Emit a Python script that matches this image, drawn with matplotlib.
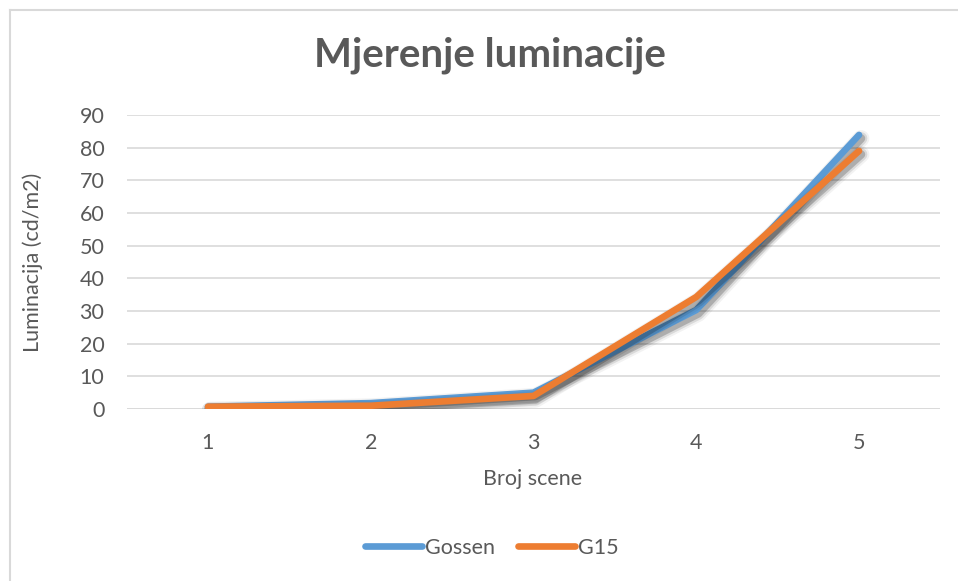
import matplotlib
matplotlib.use("Agg")
import matplotlib.pyplot as plt
import matplotlib.patheffects as pe
from matplotlib.lines import Line2D

# Data
scenes = [1, 2, 3, 4, 5]
gossen = [0.7, 1.8, 5.0, 30.3, 83.9]
g15 = [0.7, 1.0, 4.0, 34.3, 79.0]
y_ticks = [0, 10, 20, 30, 40, 50, 60, 70, 80, 90]

title = "Mjerenje luminacije"
x_label = "Broj scene"
y_label = "Luminacija (cd/m2)"

BLUE = "#5B9BD5"
ORANGE = "#ED7D31"
TEXT = "#595959"
GRID = "#D9D9D9"
FS = 15.5

plt.rcParams["font.family"] = ["Lato", "DejaVu Sans"]

W, H = 958, 581
fig = plt.figure(figsize=(W / 100, H / 100), dpi=100)
fig.patch.set_facecolor("white")

ax = fig.add_axes([126.6 / W, 1 - 409 / H, (940.4 - 126.6) / W, (409 - 115) / H])

shadow = [
    pe.SimpleLineShadow(offset=(1.5, -2.5), shadow_color="black", alpha=0.05, linewidth=12),
    pe.SimpleLineShadow(offset=(1.5, -2.5), shadow_color="black", alpha=0.10, linewidth=9),
    pe.SimpleLineShadow(offset=(1.5, -2.5), shadow_color="black", alpha=0.20, linewidth=6),
    pe.Normal(),
]

ax.plot(scenes, gossen, color=BLUE, lw=4.8, solid_capstyle="round",
        solid_joinstyle="round", path_effects=shadow, zorder=3)
ax.plot(scenes, g15, color=ORANGE, lw=4.8, solid_capstyle="round",
        solid_joinstyle="round", path_effects=shadow, zorder=4)

ax.set_xlim(0.5, 5.5)
ax.set_ylim(0, 90)
ax.set_yticks(y_ticks)
ax.set_xticks(scenes)
ax.set_xticklabels([str(s) for s in scenes])

ax.grid(axis="y", color=GRID, lw=1.2)
ax.set_axisbelow(True)
for s in ax.spines.values():
    s.set_visible(False)
ax.axhline(0, color=GRID, lw=1.2, zorder=1)
ax.tick_params(axis="both", length=0, labelsize=FS, colors=TEXT)
ax.tick_params(axis="y", pad=16)
ax.tick_params(axis="x", pad=17)

fig.text(33 / W, 1 - 262 / H, y_label, rotation=90, ha="center", va="center",
         fontsize=FS, color=TEXT)
fig.text(533 / W, 1 - 479 / H, x_label, ha="center", va="center",
         fontsize=FS, color=TEXT)
fig.text(490 / W, 1 - 55 / H, title, ha="center", va="center",
         fontsize=29, fontweight="bold", color=TEXT)

handles = [Line2D([], [], color=BLUE, lw=4.8, solid_capstyle="round"),
           Line2D([], [], color=ORANGE, lw=4.8, solid_capstyle="round")]
fig.legend(handles, ["Gossen", "G15"], loc="center", bbox_to_anchor=(492 / W, 1 - 548 / H),
           ncol=2, frameon=False, fontsize=FS, labelcolor=TEXT, handlelength=2.65,
           handletextpad=0.14, columnspacing=1.07)

# chart frame
fig.add_artist(Line2D([10 / W, 10 / W], [0, 1 - 10 / H], color=GRID, lw=1.5))
fig.add_artist(Line2D([10 / W, 1], [1 - 10 / H, 1 - 10 / H], color=GRID, lw=1.5))

fig.savefig("out.png", dpi=100, facecolor="white")
